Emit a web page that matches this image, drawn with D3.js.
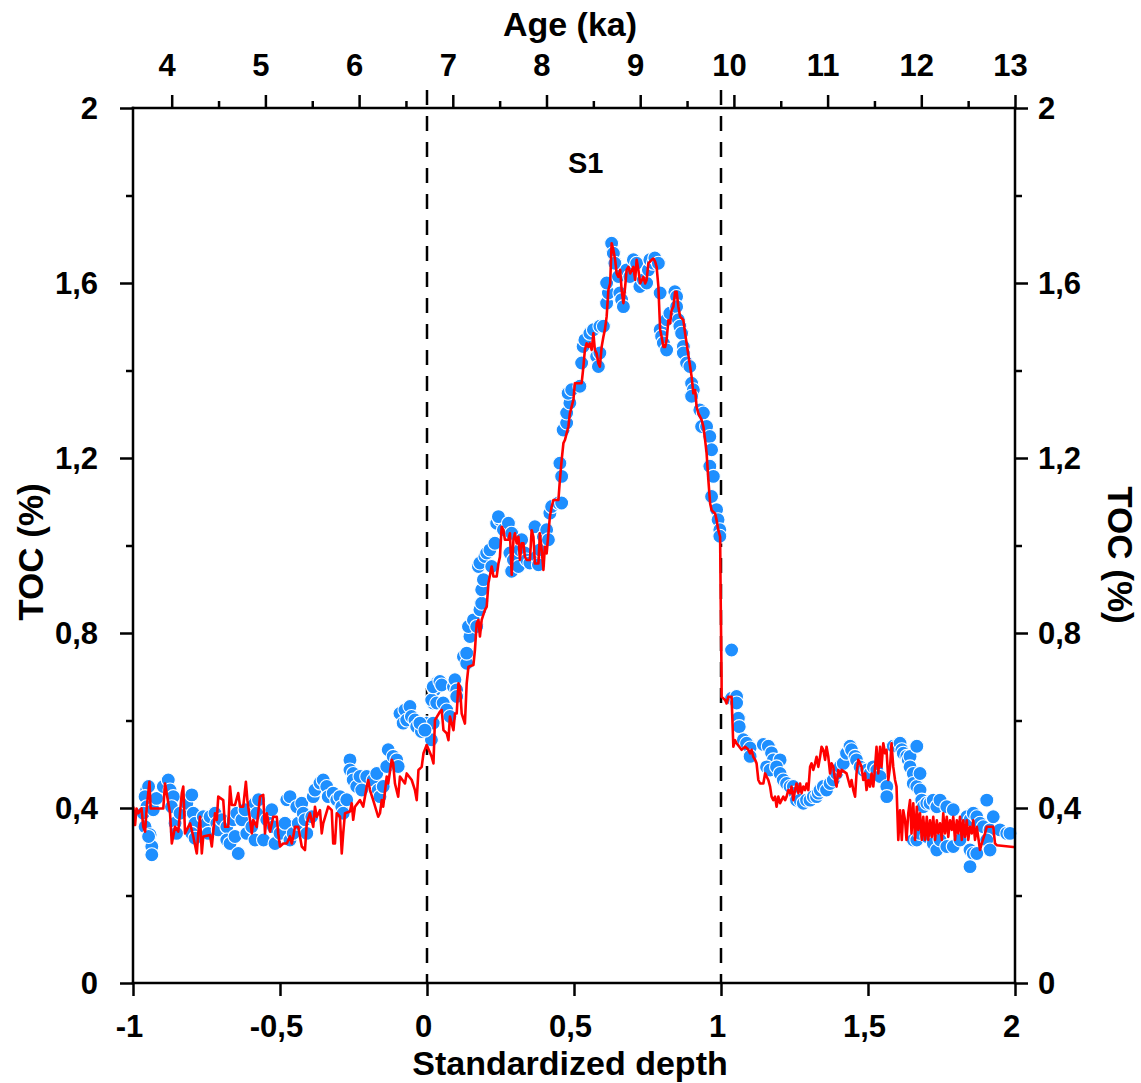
<!DOCTYPE html>
<html><head><meta charset="utf-8">
<script src="https://cdn.jsdelivr.net/npm/d3@7/dist/d3.min.js"></script>
<style>
body{margin:0;background:#fff}
text{font-family:"Liberation Sans",Arial,Helvetica,sans-serif;font-weight:bold;fill:#000}
</style>
</head><body>
<svg id="chart" width="1141" height="1083"></svg>
<script>
// ---- axis ticks ----
const depthTicks = [-1,-0.5,0,0.5,1,1.5,2];
const tocTicks = [0,0.4,0.8,1.2,1.6,2];
const tocMinor = [0.2,0.6,1.0,1.4,1.8];
const ageTicks = [4,5,6,7,8,9,10,11,12,13];
const ageMinor = [4.5,5.5,6.5,7.5,8.5,9.5,10.5,11.5,12.5];
const s1Bounds = [0,1];

// ---- scatter (measured TOC) ----
const dotDepth = [
-0.953,-0.947,-0.959,-0.953,-0.965,-0.959,-0.942,-0.936,-0.936,-0.947,
-0.931,-0.920,-0.897,-0.880,-0.874,-0.863,-0.869,-0.857,-0.852,-0.840,
-0.817,-0.800,-0.795,-0.789,-0.800,-0.789,-0.761,-0.749,-0.744,-0.738,
-0.721,-0.715,-0.710,-0.698,-0.681,-0.681,-0.670,-0.659,-0.653,-0.642,
-0.647,-0.630,-0.619,-0.613,-0.596,-0.585,-0.579,-0.585,-0.573,-0.556,
-0.545,-0.528,-0.523,-0.517,-0.500,-0.483,-0.477,-0.466,-0.466,-0.455,
-0.443,-0.438,-0.426,-0.421,-0.415,-0.409,-0.392,-0.387,-0.381,-0.364,
-0.353,-0.341,-0.336,-0.319,-0.307,-0.296,-0.290,-0.285,-0.273,-0.262,
-0.262,-0.251,-0.251,-0.239,-0.228,-0.222,-0.205,-0.183,-0.171,-0.166,
-0.160,-0.149,-0.137,-0.132,-0.115,-0.103,-0.098,-0.092,-0.081,-0.075,
-0.069,-0.058,-0.053,-0.041,-0.035,-0.024,-0.019,-0.002,0.015,0.021,
0.026,0.033,0.021,
-0.024,-0.007,0.016,0.021,0.033,0.044,0.050,0.055,0.067,0.078,
0.090,0.095,0.101,0.101,0.124,0.135,0.135,0.146,0.141,0.158,
0.169,0.180,0.186,0.186,0.192,0.175,0.180,0.197,0.203,0.214,
0.220,0.231,0.237,0.248,0.243,0.260,0.277,0.288,0.282,0.288,
0.294,0.311,0.316,0.322,0.333,0.339,0.350,0.367,0.373,0.379,
0.384,0.396,0.407,0.413,0.418,0.424,0.447,
0.452,0.458,0.458,0.463,0.475,0.475,0.486,0.480,0.492,0.520,
0.526,0.531,0.537,0.554,0.566,0.577,0.583,0.588,0.588,0.600,
0.611,0.617,0.611,0.628,0.634,0.639,0.651,0.656,0.662,0.668,
0.679,0.690,0.702,0.713,0.724,0.736,0.747,0.753,0.758,0.770,
0.775,0.787,0.793,0.793,0.798,0.804,0.815,0.815,0.826,0.843,
0.849,0.849,0.855,0.860,0.866,0.872,0.872,0.883,0.894,0.900,
0.906,0.900,0.928,0.940,0.934,0.951,0.962,0.968,0.962,0.974,
0.968,0.985,0.990,0.996,0.996,
1.036,1.036,1.053,1.053,1.059,1.062,1.076,1.087,1.099,1.099,
1.144,1.161,1.172,1.178,1.201,1.155,1.167,1.189,1.201,1.212,
1.223,1.235,1.246,1.252,1.257,1.269,1.280,1.291,1.303,1.314,
1.325,1.331,1.337,1.348,1.359,1.371,1.382,1.393,1.405,1.416,
1.427,1.439,1.444,1.456,1.461,1.473,1.484,1.496,1.507,1.518,
1.530,1.541,1.564,1.564,1.586,1.598,1.609,1.615,1.620,1.632,
1.637,1.643,1.666,1.643,1.654,1.654,1.666,1.677,1.677,1.683,
1.688,1.700,1.711,1.722,1.734,1.745,1.768,1.790,1.654,1.666,
1.677,1.700,1.722,1.734,1.745,1.768,1.790,1.813,1.836,1.847,
1.858,1.870,1.881,1.892,1.904,1.915,1.904,1.915,1.847,1.858,
1.870,1.847,1.926,1.949,1.972,1.983
];
const dotToc = [
0.441,0.449,0.426,0.403,0.388,0.357,0.339,0.312,0.293,0.335,
0.396,0.422,0.449,0.464,0.441,0.426,0.403,0.365,0.342,0.388,
0.411,0.430,0.388,0.365,0.342,0.331,0.380,0.365,0.342,0.380,
0.388,0.365,0.350,0.373,0.357,0.327,0.319,0.373,0.335,0.296,
0.388,0.373,0.396,0.342,0.357,0.411,0.388,0.327,0.419,0.327,
0.373,0.396,0.357,0.319,0.342,0.365,0.419,0.426,0.327,0.342,
0.403,0.365,0.411,0.388,0.373,0.342,0.380,0.426,0.441,0.457,
0.464,0.449,0.426,0.434,0.419,0.426,0.403,0.388,0.419,0.510,
0.487,0.479,0.464,0.449,0.472,0.441,0.472,0.464,0.479,0.441,
0.426,0.449,0.495,0.533,0.518,0.510,0.495,0.616,0.594,0.624,
0.601,0.632,0.609,0.601,0.586,0.594,0.575,0.594,0.556,0.640,
0.670,0.685,0.594,
0.594,0.578,0.647,0.677,0.640,0.689,0.681,0.640,0.624,0.609,
0.677,0.693,0.670,0.655,0.746,0.731,0.754,0.792,0.815,0.830,
0.815,0.853,0.868,0.899,0.922,0.952,0.960,0.975,0.983,0.990,
0.952,1.005,1.051,1.059,1.066,1.036,1.051,1.028,0.983,0.941,
0.967,0.952,0.990,1.013,0.983,0.967,0.960,1.043,0.975,0.956,
0.990,1.020,1.036,1.013,1.074,1.089,1.097,
1.188,1.158,1.097,1.264,1.280,1.303,1.326,1.348,1.356,1.364,
1.417,1.455,1.470,1.485,1.493,1.432,1.409,1.440,1.501,1.501,
1.554,1.577,1.600,1.691,1.668,1.645,1.615,1.577,1.562,1.546,
1.630,1.615,1.653,1.645,1.592,1.607,1.600,1.630,1.653,1.645,
1.657,1.645,1.577,1.493,1.478,1.463,1.447,1.516,1.531,1.580,
1.569,1.546,1.516,1.501,1.485,1.455,1.440,1.417,1.409,1.371,
1.356,1.341,1.310,1.303,1.272,1.272,1.249,1.219,1.181,1.158,
1.112,1.082,1.059,1.036,1.021,
0.761,0.651,0.655,0.640,0.605,0.586,0.556,0.548,0.537,0.518,
0.545,0.541,0.526,0.510,0.510,0.494,0.487,0.494,0.479,0.464,
0.456,0.449,0.449,0.434,0.418,0.418,0.411,0.418,0.418,0.426,
0.426,0.434,0.441,0.449,0.441,0.456,0.464,0.479,0.494,0.502,
0.525,0.541,0.533,0.518,0.510,0.494,0.487,0.487,0.479,0.494,
0.487,0.472,0.449,0.426,0.541,0.541,0.548,0.533,0.525,0.518,
0.510,0.518,0.541,0.494,0.479,0.456,0.449,0.479,0.441,0.418,
0.403,0.411,0.411,0.418,0.403,0.418,0.403,0.396,0.327,0.327,
0.342,0.335,0.319,0.304,0.327,0.312,0.312,0.327,0.380,0.373,
0.388,0.380,0.365,0.357,0.418,0.350,0.327,0.304,0.304,0.296,
0.296,0.266,0.380,0.350,0.342,0.342
];

// ---- red line (high-resolution TOC) ----
const lineDepth = [
-0.999,-0.993,-0.988,-0.982,-0.971,-0.965,-0.959,-0.953,-0.944,-0.940,
-0.897,-0.891,-0.874,-0.868,-0.857,-0.846,-0.834,-0.829,-0.823,-0.806,
-0.795,-0.783,-0.778,-0.772,-0.766,-0.761,-0.738,-0.732,-0.721,-0.715,
-0.710,-0.693,-0.687,-0.676,-0.670,-0.664,-0.653,-0.642,-0.636,-0.625,
-0.616,-0.611,-0.602,-0.596,-0.591,-0.579,-0.568,-0.557,-0.551,-0.545,
-0.534,-0.523,-0.511,-0.506,-0.500,-0.489,-0.477,-0.466,-0.460,-0.455,
-0.449,-0.438,-0.426,-0.415,-0.409,-0.398,-0.387,-0.381,-0.375,-0.364,
-0.358,-0.353,-0.336,-0.324,-0.319,-0.313,-0.307,-0.296,-0.290,-0.285,
-0.279,-0.262,-0.256,-0.251,-0.245,-0.228,-0.217,-0.205,-0.200,-0.194,
-0.183,-0.166,-0.160,-0.154,-0.149,-0.137,-0.132,-0.120,-0.115,-0.109,
-0.098,-0.092,-0.075,-0.069,-0.052,-0.041,-0.035,-0.029,-0.018,-0.012,
-0.001,0.016,0.022,0.027,0.044,
0.050,0.056,0.067,0.073,0.078,0.090,0.095,0.101,0.107,0.112,
0.118,0.129,0.135,0.141,0.158,0.163,0.169,0.175,0.180,0.186,
0.197,0.203,0.209,0.220,0.226,0.237,0.243,0.248,0.254,0.260,
0.265,0.277,0.282,0.288,0.294,0.299,0.305,0.311,0.316,0.322,
0.328,0.333,0.339,0.350,0.356,0.362,0.367,0.379,0.384,0.390,
0.396,0.401,0.407,0.413,0.418,0.424,0.430,0.447,
0.452,0.458,0.464,0.469,0.481,0.486,0.498,0.503,0.526,0.532,
0.537,0.543,0.549,0.554,0.560,0.566,0.571,0.577,0.583,0.588,
0.594,0.600,0.605,0.611,0.617,0.623,0.628,0.634,0.640,0.645,
0.651,0.657,0.662,0.668,0.674,0.679,0.685,0.691,0.702,0.708,
0.713,0.719,0.725,0.736,0.742,0.747,0.753,0.764,0.770,0.776,
0.781,0.787,0.793,0.798,0.804,0.810,0.815,0.821,0.827,0.832,
0.838,0.844,0.849,0.855,0.861,0.872,0.878,0.883,0.895,0.900,
0.906,0.912,0.917,0.923,0.934,0.940,0.946,0.951,0.957,0.963,
0.968,0.980,0.985,0.991,0.997,
0.999,1.002,1.002,1.014,1.019,1.025,1.036,1.042,1.048,1.053,
1.070,1.082,1.093,1.099,1.104,1.110,1.116,1.121,1.127,1.133,
1.144,1.150,1.155,1.161,1.167,1.172,1.178,1.184,1.189,1.195,
1.201,1.206,1.212,1.218,1.223,1.229,1.235,1.240,1.246,1.252,
1.257,1.263,1.269,1.274,1.280,1.286,1.291,1.297,1.303,1.308,
1.314,1.320,1.325,1.331,1.337,1.342,1.348,1.354,1.359,1.365,
1.371,1.376,1.382,1.388,1.393,1.399,1.405,1.410,1.427,1.433,
1.439,1.444,1.450,1.456,1.461,1.467,1.473,1.478,1.484,1.490,
1.495,1.501,1.507,1.512,1.518,1.524,1.529,1.535,1.541,1.546,
1.552,1.558,1.563,1.569,1.575,1.580,1.586,1.592,1.597,1.603,
1.609,1.615,1.620,1.626,1.631,1.637,1.643,1.648,1.654,1.660,
1.666,1.671,1.677,1.683,1.688,1.694,1.700,1.705,1.711,1.717,
1.722,1.728,1.734,1.739,1.745,1.751,1.756,1.762,1.768,1.773,
1.779,1.785,1.790,1.796,1.802,1.807,1.813,1.819,1.824,1.830,
1.836,1.841,1.847,1.853,1.858,1.864,1.870,1.881,1.887,1.898,
1.904,1.926,1.932,1.938,1.994,2.0
];
const lineToc = [
0.403,0.361,0.399,0.388,0.399,0.357,0.346,0.403,0.460,0.399,
0.399,0.456,0.388,0.319,0.357,0.346,0.434,0.449,0.342,0.365,
0.335,0.296,0.342,0.380,0.296,0.335,0.338,0.312,0.388,0.373,
0.426,0.418,0.357,0.357,0.449,0.407,0.407,0.434,0.403,0.403,
0.460,0.418,0.373,0.342,0.373,0.357,0.426,0.430,0.342,0.388,
0.346,0.380,0.380,0.342,0.312,0.319,0.319,0.335,0.319,0.335,
0.357,0.357,0.312,0.304,0.365,0.388,0.357,0.403,0.380,0.395,
0.342,0.365,0.403,0.395,0.319,0.319,0.388,0.380,0.296,0.342,
0.388,0.392,0.411,0.373,0.403,0.418,0.403,0.449,0.464,0.441,
0.418,0.380,0.388,0.418,0.403,0.472,0.456,0.510,0.502,0.456,
0.426,0.472,0.456,0.479,0.464,0.441,0.418,0.487,0.494,0.525,
0.544,0.517,0.502,0.601,0.620,
0.624,0.578,0.571,0.555,0.609,0.578,0.616,0.616,0.685,0.677,
0.616,0.593,0.685,0.723,0.727,0.761,0.822,0.830,0.792,0.830,
0.853,0.860,0.914,0.952,0.929,0.929,0.959,0.974,1.043,1.035,
1.013,1.013,1.028,0.933,1.013,1.028,1.005,1.020,0.967,1.005,
1.005,0.974,0.967,0.967,1.035,1.020,0.959,0.959,1.028,0.990,
0.944,0.997,0.982,1.028,1.066,1.089,1.104,1.104,
1.150,1.195,1.234,1.241,1.272,1.302,1.333,1.371,1.371,1.409,
1.447,1.462,1.454,1.462,1.447,1.485,1.447,1.439,1.416,1.409,
1.454,1.477,1.493,1.523,1.584,1.599,1.691,1.675,1.653,1.622,
1.614,1.630,1.584,1.554,1.592,1.630,1.637,1.622,1.637,1.607,
1.653,1.630,1.599,1.614,1.599,1.607,1.645,1.653,1.656,1.649,
1.637,1.592,1.493,1.477,1.454,1.454,1.470,1.515,1.508,1.538,
1.546,1.580,1.580,1.546,1.523,1.515,1.485,1.462,1.409,1.386,
1.348,1.355,1.317,1.302,1.287,1.272,1.241,1.211,1.150,1.096,
1.081,1.073,1.058,1.035,1.020,
0.875,0.692,0.654,0.647,0.639,0.654,0.654,0.540,0.555,0.548,
0.533,0.540,0.533,0.525,0.533,0.517,0.510,0.502,0.464,0.456,
0.456,0.479,0.472,0.464,0.449,0.426,0.418,0.426,0.403,0.426,
0.411,0.418,0.426,0.418,0.426,0.441,0.434,0.449,0.418,0.441,
0.456,0.434,0.456,0.434,0.449,0.441,0.456,0.441,0.494,0.502,
0.487,0.502,0.517,0.494,0.517,0.540,0.533,0.510,0.540,0.517,
0.479,0.502,0.494,0.464,0.449,0.487,0.472,0.487,0.479,0.464,
0.449,0.464,0.441,0.426,0.479,0.510,0.502,0.494,0.464,0.479,
0.441,0.464,0.449,0.479,0.449,0.494,0.540,0.479,0.540,0.494,
0.548,0.525,0.533,0.464,0.494,0.548,0.494,0.464,0.449,0.327,
0.395,0.327,0.395,0.372,0.327,0.388,0.418,0.342,0.411,0.327,
0.403,0.350,0.388,0.327,0.380,0.327,0.380,0.327,0.372,0.334,
0.380,0.327,0.372,0.342,0.365,0.327,0.388,0.342,0.380,0.334,
0.372,0.350,0.380,0.327,0.372,0.342,0.380,0.327,0.372,0.334,
0.372,0.327,0.357,0.342,0.372,0.327,0.357,0.304,0.319,0.342,
0.357,0.357,0.319,0.315,0.311,0.311
];

// ---- chart ----
const svg = d3.select('#chart');
const x = d3.scaleLinear().domain([-1, 2]).range([133, 1015]);
const y = d3.scaleLinear().domain([0, 2]).range([983, 108]);
const age = d3.scaleLinear().domain([3.587, 13]).range([133, 1015]);
const fmt = v => String(v).replace('.', ',');
const AX = 2.5, FS = '31px';

function styleAxis(g) {
  g.select('.domain').remove();
  g.selectAll('.tick line').attr('stroke', '#000').attr('stroke-width', AX);
  g.selectAll('.tick text').style('font-size', FS).attr('fill', '#000');
}

// dashed boundaries of S1
svg.append('g').selectAll('line').data(s1Bounds).join('line')
  .attr('x1', d => x(d)).attr('x2', d => x(d))
  .attr('y1', y(2) - 18).attr('y2', y(0))
  .attr('stroke', '#000').attr('stroke-width', AX)
  .attr('stroke-dasharray', '15,11');

// scatter
const dots = dotDepth.map((d, i) => ({d, v: dotToc[i]}));
svg.append('g').selectAll('circle').data(dots).join('circle')
  .attr('cx', p => x(p.d)).attr('cy', p => y(p.v)).attr('r', 7)
  .attr('fill', '#1E8FFF').attr('stroke', '#fff').attr('stroke-width', 1.1);

// red line
const linePts = lineDepth.map((d, i) => [d, lineToc[i]]);
svg.append('path').datum(linePts)
  .attr('d', d3.line().x(p => x(p[0])).y(p => y(p[1])))
  .attr('fill', 'none').attr('stroke', '#FF0000').attr('stroke-width', 2.6)
  .attr('stroke-linejoin', 'round');

// frame
const frame = svg.append('g').attr('stroke', '#000').attr('stroke-width', AX).attr('stroke-linecap', 'square');
frame.append('line').attr('x1', x(-1)).attr('x2', x(2)).attr('y1', y(0)).attr('y2', y(0));
frame.append('line').attr('x1', x(-1)).attr('x2', x(2)).attr('y1', y(2)).attr('y2', y(2));
frame.append('line').attr('x1', x(-1)).attr('x2', x(-1)).attr('y1', y(2)).attr('y2', y(0));
frame.append('line').attr('x1', x(2)).attr('x2', x(2)).attr('y1', y(2)).attr('y2', y(0));

// bottom axis
svg.append('g').attr('transform', `translate(0,${y(0)})`)
  .call(d3.axisBottom(x).tickValues(depthTicks).tickSize(13).tickFormat(fmt))
  .call(styleAxis)
  .call(g => g.selectAll('.tick text').attr('y', 54).attr('dy', 0).attr('x', -4));

// top axis (age)
svg.append('g').attr('transform', `translate(0,${y(2)})`)
  .call(d3.axisTop(age).tickValues(ageTicks).tickSize(13).tickFormat(d => d))
  .call(styleAxis)
  .call(g => g.selectAll('.tick text').attr('y', -32).attr('dy', 0).attr('x', -5));
svg.append('g').attr('transform', `translate(0,${y(2)})`)
  .call(d3.axisTop(age).tickValues(ageMinor).tickSize(7).tickFormat(''))
  .call(styleAxis);

// left axis
svg.append('g').attr('transform', `translate(${x(-1)},0)`)
  .call(d3.axisLeft(y).tickValues(tocTicks).tickSize(13).tickFormat(fmt))
  .call(styleAxis)
  .call(g => g.selectAll('.tick text').attr('x', -35).attr('dy', '0.35em'));
svg.append('g').attr('transform', `translate(${x(-1)},0)`)
  .call(d3.axisLeft(y).tickValues(tocMinor).tickSize(7).tickFormat(''))
  .call(styleAxis);

// right axis
svg.append('g').attr('transform', `translate(${x(2)},0)`)
  .call(d3.axisRight(y).tickValues(tocTicks).tickSize(13).tickFormat(fmt))
  .call(styleAxis)
  .call(g => g.selectAll('.tick text').attr('x', 23).attr('dy', '0.35em'));
svg.append('g').attr('transform', `translate(${x(2)},0)`)
  .call(d3.axisRight(y).tickValues(tocMinor).tickSize(7).tickFormat(''))
  .call(styleAxis);

// titles
svg.append('text').attr('x', 570).attr('y', 1075).attr('text-anchor', 'middle')
  .style('font-size', '34px').text('Standardized depth');
svg.append('text').attr('x', 570).attr('y', 36).attr('text-anchor', 'middle')
  .style('font-size', '34px').text('Age (ka)');
svg.append('text').attr('transform', 'translate(43,552) rotate(-90)').attr('text-anchor', 'middle')
  .style('font-size', '35px').text('TOC (%)');
svg.append('text').attr('transform', 'translate(1108,555) rotate(90)').attr('text-anchor', 'middle')
  .style('font-size', '35px').text('TOC (%)');
svg.append('text').attr('x', x(0.54)).attr('y', 173).attr('text-anchor', 'middle')
  .style('font-size', '29px').text('S1');
</script>
</body></html>
